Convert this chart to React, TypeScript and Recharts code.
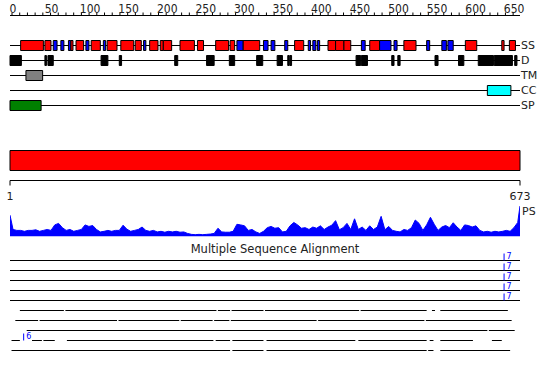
import React from "react";
import {
  ComposedChart,
  Area,
  XAxis,
  YAxis,
  ReferenceArea,
  ReferenceLine,
} from "recharts";

const SEQ_LENGTH = 673;

// secondary structure (SS) elements, residue ranges
const ssHelix: [number, number][] = [
  [15, 45], [47, 55], [81, 84], [88, 98], [108, 120], [129, 142], [147, 164],
  [166, 174], [185, 196], [199, 203], [203, 214], [225, 244], [248, 256],
  [272, 289], [291, 297], [308, 330], [376, 388], [420, 430], [430, 441],
  [441, 450], [475, 488], [520, 536], [601, 616], [649, 652], [659, 667],
];
const ssStrand: [number, number][] = [
  [58, 63], [68, 72], [78, 81], [101, 105], [124, 127], [177, 180], [300, 308],
  [335, 341], [345, 350], [363, 367], [394, 397], [400, 404], [406, 409],
  [464, 469], [488, 503], [507, 511], [550, 554], [570, 576], [578, 585],
];
// disorder (D)
const disorder: [number, number][] = [
  [1, 16], [47, 49], [51, 58], [121, 130], [145, 148], [218, 222], [260, 270],
  [290, 297], [326, 334], [353, 360], [367, 369], [370, 372], [457, 463],
  [464, 472], [504, 507], [512, 515], [561, 565], [592, 599], [618, 638],
  [639, 663], [666, 669],
];
const transmembrane: [number, number][] = [[22, 44]];
const coiledCoil: [number, number][] = [[630, 661]];
const signalPeptide: [number, number][] = [[1, 42]];

const rulerLabels = [0, 50, 100, 150, 200, 250, 300, 350, 400, 450, 500, 550, 600, 650];
const rulerTicks = Array.from({ length: 66 }, (_, i) => i * 10);

// PS profile
const psResidues = [
  1, 5, 10, 15, 20, 25, 30, 35, 40, 45, 50, 55, 60, 65, 70, 75, 80, 85, 90, 95,
  100, 105, 110, 115, 120, 125, 130, 135, 140, 145, 150, 155, 160, 165, 170,
  175, 180, 185, 190, 195, 200, 205, 210, 215, 220, 225, 230, 235, 240, 245,
  250, 255, 260, 265, 270, 275, 280, 285, 290, 295, 300, 305, 310, 315, 320,
  325, 330, 335, 340, 345, 350, 355, 360, 365, 370, 375, 380, 385, 390, 395,
  400, 405, 410, 415, 420, 425, 430, 435, 440, 445, 450, 455, 460, 465, 470,
  475, 480, 485, 490, 495, 500, 505, 510, 515, 520, 525, 530, 535, 540, 545,
  550, 555, 560, 565, 570, 575, 580, 585, 590, 595, 600, 605, 610, 615, 620,
  625, 630, 635, 640, 645, 650, 655, 660, 665, 670, 673,
];
const psScores = [
  0.7, 0.23, 0.2, 0.2, 0.17, 0.2, 0.2, 0.22, 0.17, 0.2, 0.23, 0.2, 0.38, 0.43,
  0.29, 0.2, 0.23, 0.17, 0.2, 0.23, 0.38, 0.33, 0.36, 0.23, 0.15, 0.17, 0.2,
  0.17, 0.2, 0.2, 0.37, 0.24, 0.17, 0.2, 0.23, 0.31, 0.2, 0.17, 0.2, 0.15,
  0.17, 0.14, 0.17, 0.15, 0.17, 0.14, 0.15, 0.1, 0.07, 0.06, 0.07, 0.06, 0.07,
  0.08, 0.1, 0.27, 0.15, 0.14, 0.14, 0.17, 0.4, 0.38, 0.35, 0.2, 0.23, 0.15,
  0.1, 0.17, 0.29, 0.33, 0.27, 0.29, 0.15, 0.17, 0.35, 0.46, 0.38, 0.27, 0.29,
  0.23, 0.31, 0.27, 0.35, 0.23, 0.31, 0.37, 0.52, 0.22, 0.29, 0.43, 0.23,
  0.58, 0.23, 0.31, 0.2, 0.35, 0.23, 0.31, 0.66, 0.22, 0.33, 0.2, 0.17, 0.15,
  0.23, 0.2, 0.29, 0.54, 0.43, 0.2, 0.38, 0.63, 0.4, 0.2, 0.31, 0.36, 0.29,
  0.45, 0.31, 0.2, 0.38, 0.36, 0.31, 0.35, 0.2, 0.15, 0.17, 0.14, 0.17, 0.15,
  0.17, 0.2, 0.17, 0.29, 0.46, 1.0,
];

// multiple sequence alignment rows: aligned segments
const msaRows: [number, number][][] = [
  [[1, 673]],
  [[1, 673]],
  [[1, 673]],
  [[1, 673]],
  [[1, 673]],
  [[14, 72], [74, 273], [275, 291], [293, 335], [337, 461], [463, 550], [557, 561], [568, 657]],
  [[8, 38], [40, 142], [144, 224], [226, 268], [270, 290], [292, 405], [407, 547], [549, 662]],
  [[23, 630], [632, 666]],
  [[3, 14], [30, 43], [45, 60], [76, 269], [272, 291], [294, 335], [339, 456], [460, 550], [554, 559], [568, 611], [636, 649]],
  [[3, 291], [294, 335], [339, 550], [552, 559], [568, 660]],
];
const msaMarkers = [
  { row: 0, pos: 652, label: "7" },
  { row: 1, pos: 652, label: "7" },
  { row: 2, pos: 652, label: "7" },
  { row: 3, pos: 652, label: "7" },
  { row: 4, pos: 652, label: "7" },
  { row: 8, pos: 19, label: "6" },
];

const tracks = [
  { name: "SS", groups: [{ color: "#ff0000", ranges: ssHelix }, { color: "#0000ff", ranges: ssStrand }] },
  { name: "D", groups: [{ color: "#000000", ranges: disorder }] },
  { name: "TM", groups: [{ color: "#808080", ranges: transmembrane }] },
  { name: "CC", groups: [{ color: "#00ffff", ranges: coiledCoil }] },
  { name: "SP", groups: [{ color: "#008000", ranges: signalPeptide }] },
];

// sequence extent, so every chart has an x range to scale against
const seqExtent = [{ res: 1 }, { res: SEQ_LENGTH }];

const FONT = "'DejaVu Sans', sans-serif";
const NARROW = "'Liberation Sans Narrow', 'DejaVu Sans Condensed', sans-serif";
const TEXT = "#222";
const MARGIN = { top: 0, right: 30, bottom: 0, left: 10 };

const renderRulerTick = (props: any) => {
  const { x, y, payload } = props;
  if (!rulerLabels.includes(payload.value)) return <g />;
  return (
    <text x={x + 1} y={y} textAnchor="middle" fontSize={12} fill={TEXT} fontFamily={NARROW}>
      {payload.value}
    </text>
  );
};

const markerLabel = (text: string) => (props: any) => {
  const vb = props.viewBox || { x: 0, y: 0 };
  return (
    <text x={vb.x + 2.5} y={vb.y + 5.5} fontSize={8} fill="#0000ff" fontFamily={FONT}>
      {text}
    </text>
  );
};

export default function App() {
  const psData = psResidues.map((res, i) => ({ res, score: psScores[i] }));

  return (
    <div
      style={{
        position: "absolute",
        left: 0,
        top: 0,
        width: 550,
        height: 380,
        background: "#fff",
        fontFamily: FONT,
      }}
    >
      {/* ruler + feature tracks */}
      <div style={{ position: "absolute", left: 0, top: 0 }}>
        <ComposedChart width={550} height={115} margin={MARGIN} data={seqExtent}>
          <XAxis
            xAxisId="ruler"
            dataKey="res"
            orientation="top"
            type="number"
            domain={[-2.6, 658.9]}
            allowDataOverflow
            ticks={rulerTicks}
            interval={0}
            height={15.5}
            tickSize={3}
            tickMargin={0}
            stroke="#000"
            tick={renderRulerTick}
          />
          <XAxis xAxisId="res" dataKey="res" type="number" domain={[1, SEQ_LENGTH]} allowDataOverflow hide />
          <YAxis type="number" domain={[-2, 4.633]} reversed allowDataOverflow hide />
          {tracks.map((t, row) => (
            <ReferenceArea
              key={"line-" + t.name}
              xAxisId="res"
              x1={1}
              x2={SEQ_LENGTH}
              y1={row - 0.5 / 15}
              y2={row + 0.5 / 15}
              fill="#000"
              fillOpacity={1}
              label={{ value: t.name, position: "right", offset: 1, fontSize: 11, fill: TEXT, fontFamily: FONT }}
            />
          ))}
          {tracks.map((t, row) =>
            t.groups.map((g) =>
              g.ranges.map(([s, e]) => (
                <ReferenceArea
                  key={t.name + s + "-" + e}
                  xAxisId="res"
                  x1={s}
                  x2={e}
                  y1={row - 5 / 15}
                  y2={row + 5 / 15}
                  fill={g.color}
                  fillOpacity={1}
                  stroke="#000"
                  strokeWidth={1}
                />
              ))
            )
          )}
        </ComposedChart>
      </div>

      {/* domain bar + sequence ruler */}
      <div style={{ position: "absolute", left: 0, top: 145 }}>
        <ComposedChart width={550} height={60} margin={MARGIN} data={seqExtent}>
          <XAxis
            dataKey="res"
            type="number"
            domain={[1, SEQ_LENGTH]}
            allowDataOverflow
            ticks={[1, SEQ_LENGTH]}
            interval={0}
            height={24.5}
            tickSize={5}
            tickMargin={7}
            stroke="#000"
            tick={{ fontSize: 11, fill: TEXT, fontFamily: FONT }}
          />
          <YAxis type="number" domain={[0, 35.5]} reversed allowDataOverflow hide />
          <ReferenceArea
            x1={1}
            x2={SEQ_LENGTH}
            y1={5.5}
            y2={25.5}
            fill="#ff0000"
            fillOpacity={1}
            stroke="#000"
            strokeWidth={1}
          />
        </ComposedChart>
      </div>

      {/* PS profile */}
      <div style={{ position: "absolute", left: 0, top: 200 }}>
        <ComposedChart width={550} height={40} data={psData} margin={{ top: 6, right: 30, bottom: 3.5, left: 10 }}>
          <XAxis dataKey="res" type="number" domain={[1, SEQ_LENGTH]} allowDataOverflow hide />
          <YAxis type="number" domain={[0, 1]} allowDataOverflow hide />
          <Area
            type="linear"
            dataKey="score"
            stroke="#0000ff"
            strokeWidth={1}
            fill="#0000ff"
            fillOpacity={1}
            dot={false}
            activeDot={false}
            isAnimationActive={false}
          />
        </ComposedChart>
      </div>
      <div style={{ position: "absolute", left: 522, top: 205, fontSize: 11, color: TEXT, lineHeight: "13px" }}>
        PS
      </div>

      {/* multiple sequence alignment */}
      <div
        style={{
          position: "absolute",
          left: 0,
          top: 243,
          width: 550,
          textAlign: "center",
          fontSize: 11.5,
          color: TEXT,
          lineHeight: "13px",
        }}
      >
        Multiple Sequence Alignment
      </div>
      <div style={{ position: "absolute", left: 0, top: 240 }}>
        <ComposedChart width={550} height={120} margin={MARGIN} data={seqExtent}>
          <XAxis dataKey="res" type="number" domain={[1, SEQ_LENGTH]} allowDataOverflow hide />
          <YAxis type="number" domain={[-2.05, 9.95]} reversed allowDataOverflow hide />
          {msaRows.map((segs, row) =>
            segs.map(([s, e]) => (
              <ReferenceLine
                key={"msa-" + row + "-" + s}
                segment={[
                  { x: s, y: row },
                  { x: e, y: row },
                ]}
                stroke="#000"
                strokeWidth={1}
              />
            ))
          )}
          {msaMarkers.map((m) => (
            <ReferenceLine
              key={"mk-" + m.row}
              segment={[
                { x: m.pos, y: m.row - 0.7 },
                { x: m.pos, y: m.row },
              ]}
              stroke="#0000ff"
              strokeWidth={1}
              label={markerLabel(m.label)}
            />
          ))}
        </ComposedChart>
      </div>
    </div>
  );
}
